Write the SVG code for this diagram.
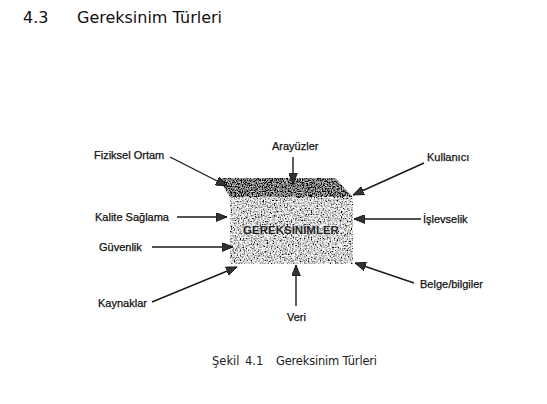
<svg xmlns="http://www.w3.org/2000/svg" width="547" height="404" viewBox="0 0 547 404">
<style>
.lbl{font-family:"Liberation Sans",Arial,sans-serif;font-size:11px;fill:#111;stroke:#111;stroke-width:0.25}
.ttl{font-family:"DejaVu Sans","Liberation Sans",sans-serif;font-size:16px;fill:#111}
.cap{font-family:"DejaVu Sans","Liberation Sans",sans-serif;font-size:11.5px;fill:#222}
.con line{stroke:#1a1a1a;stroke-width:1.4;marker-end:url(#ah)}
</style>
<defs>
<marker id="ah" viewBox="0 0 10 8" refX="10" refY="4" markerWidth="11" markerHeight="9" markerUnits="userSpaceOnUse" orient="auto">
<path d="M0,0 L10,4 L0,8 Z" fill="#333" stroke="#111" stroke-width="0.8"/>
</marker>
<filter id="spk" x="0" y="0" width="1" height="1">
<feTurbulence type="fractalNoise" baseFrequency="0.7" numOctaves="2" seed="5"/>
<feColorMatrix type="saturate" values="0"/>
<feComponentTransfer>
<feFuncR type="linear" slope="3.6" intercept="-1.15"/>
<feFuncG type="linear" slope="3.6" intercept="-1.15"/>
<feFuncB type="linear" slope="3.6" intercept="-1.15"/>
<feFuncA type="linear" slope="0" intercept="1"/>
</feComponentTransfer>
<feComposite in2="SourceAlpha" operator="in"/>
</filter>
<filter id="spkd" x="0" y="0" width="1" height="1">
<feTurbulence type="fractalNoise" baseFrequency="0.8" numOctaves="2" seed="9"/>
<feColorMatrix type="saturate" values="0"/>
<feComponentTransfer>
<feFuncR type="linear" slope="2.5" intercept="-1.05"/>
<feFuncG type="linear" slope="2.5" intercept="-1.05"/>
<feFuncB type="linear" slope="2.5" intercept="-1.05"/>
<feFuncA type="linear" slope="0" intercept="1"/>
</feComponentTransfer>
<feComposite in2="SourceAlpha" operator="in"/>
</filter>
</defs>
<rect width="547" height="404" fill="#fff"/>
<text class="ttl" x="23" y="23">4.3</text>
<text class="ttl" x="77" y="23" textLength="145">Gereksinim Türleri</text>

<g id="gereksinimler">
<polygon points="218,178 335,178 353,197 230,197" fill="#444" filter="url(#spkd)"/>
<rect x="230" y="197" width="123" height="67" fill="#999" filter="url(#spk)"/>
<text x="291" y="234" text-anchor="middle" style="font-family:'Liberation Sans',Arial,sans-serif;font-size:11.5px;font-weight:bold;fill:#222;stroke:#fff;stroke-width:0.4;paint-order:stroke">GEREKSİNİMLER</text>
</g>

<g id="fiziksel-ortam"><text class="lbl" x="94" y="159">Fiziksel Ortam</text></g>
<g id="kalite-saglama"><text class="lbl" x="95" y="221">Kalite Sağlama</text></g>
<g id="guvenlik"><text class="lbl" x="99" y="251">Güvenlik</text></g>
<g id="kaynaklar"><text class="lbl" x="98" y="307">Kaynaklar</text></g>
<g id="arayuzler"><text class="lbl" x="272" y="150">Arayüzler</text></g>
<g id="kullanici"><text class="lbl" x="427" y="161">Kullanıcı</text></g>
<g id="islevselik"><text class="lbl" x="423" y="223">İşlevselik</text></g>
<g id="belge-bilgiler"><text class="lbl" x="420" y="288">Belge/bilgiler</text></g>
<g id="veri"><text class="lbl" x="287" y="321">Veri</text></g>

<g class="con" id="connectors">
<line x1="170" y1="157" x2="227" y2="186"/>
<line x1="177" y1="217" x2="227" y2="217"/>
<line x1="152" y1="247" x2="233" y2="247"/>
<line x1="152" y1="302" x2="237" y2="267"/>
<line x1="293" y1="157" x2="293" y2="184"/>
<line x1="424" y1="163" x2="353" y2="195"/>
<line x1="421" y1="219" x2="354" y2="219"/>
<line x1="414" y1="283" x2="355" y2="263"/>
<line x1="296" y1="306" x2="296" y2="265"/>
</g>

<text class="cap" x="212" y="365">Şekil</text>
<text class="cap" x="245" y="365">4.1</text>
<text class="cap" x="276" y="365" textLength="101">Gereksinim Türleri</text>
</svg>
